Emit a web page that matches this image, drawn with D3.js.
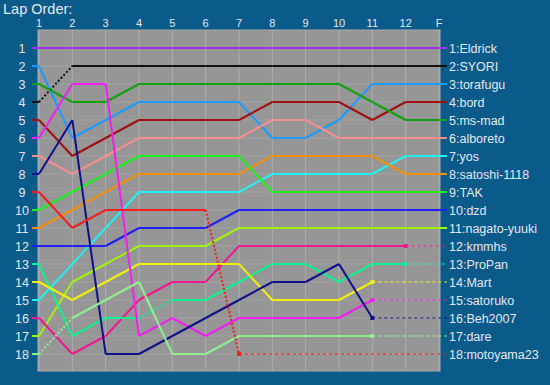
<!DOCTYPE html>
<html>
<head>
<meta charset="utf-8">
<script src="https://cdn.jsdelivr.net/npm/d3@7"></script>
<style>
  body { margin: 0; background: #0a5a8a; }
  text { font-family: "Liberation Sans", Arial, sans-serif; fill: #e4e8ee; }
</style>
</head>
<body>
<div id="chart"></div>
<script>
const W = 550, H = 385;

// laps shown across the top
const laps = ["1","2","3","4","5","6","7","8","9","10","11","12","F"];
const rows = d3.range(1, 19);

const names = ["Eldrick","SYORI","torafugu","bord","ms-mad","alboreto","yos","satoshi-1118","TAK",
  "dzd","nagato-yuuki","kmmhs","ProPan","Mart","satoruko","Beh2007","dare","motoyama23"];

const colors = ["#a030f0","#101010","#1e9bff","#a01010","#10a010","#f09090","#20f0f0","#f09010","#20f020",
  "#2020f0","#a0f010","#f01890","#10f090","#f0f010","#f020f0","#10108a","#90f090","#f02020"];

// position per lap (lap 1 .. 12, F); shorter arrays = did not finish
const positions = [
  [1,1,1,1,1,1,1,1,1,1,1,1,1],
  [4,2,2,2,2,2,2,2,2,2,2,2,2],
  [2,6,5,4,4,4,4,6,6,5,3,3,3],
  [5,7,6,5,5,5,5,4,4,4,5,4,4],
  [3,4,4,3,3,3,3,3,3,3,4,5,5],
  [7,8,7,6,6,6,6,5,5,6,6,6,6],
  [15,13,11,9,9,9,9,8,8,8,8,7,7],
  [11,10,9,8,8,8,8,7,7,7,7,8,8],
  [10,9,8,7,7,7,7,9,9,9,9,9,9],
  [12,12,12,11,11,11,10,10,10,10,10,10,10],
  [17,14,13,12,12,12,11,11,11,11,11,11,11],
  [16,18,17,15,14,14,12,12,12,12,12,12],
  [13,17,16,16,15,15,14,13,13,14,13,13],
  [14,15,14,13,13,13,13,15,15,15,14],
  [6,3,3,17,16,17,16,16,16,16,15],
  [8,5,18,18,17,16,15,14,14,13,16],
  [18,16,15,14,18,18,17,17,17,17,17],
  [9,11,10,10,10,10,18]
];

// segments drawn dotted: [driver index, index of segment start]
const dotted = [[1,0],[16,0],[12,3],[17,5]];

const svg = d3.select("#chart").append("svg")
    .attr("width", W)
    .attr("height", H);

svg.append("rect").attr("width", W).attr("height", H).attr("fill", "#0a5a8a");

const x = d3.scalePoint().domain(laps).range([39, 439]);
const y = d3.scaleLinear().domain([1, 18]).range([48, 354]);
const startX = 32, endX = 447;

// plot background
svg.append("rect")
    .attr("x", 38).attr("y", 30)
    .attr("width", 402).attr("height", 341)
    .attr("fill", "#969696")
    .attr("stroke", "#a8a8a8");

// grid
svg.append("g").selectAll("line")
    .data(rows)
    .join("line")
    .attr("x1", 38).attr("x2", 440)
    .attr("y1", d => y(d)).attr("y2", d => y(d))
    .style("stroke", "#a2a2a2")
    .style("stroke-width", 1);

svg.append("g").selectAll("line")
    .data(laps)
    .join("line")
    .attr("x1", d => x(d)).attr("x2", d => x(d))
    .attr("y1", 30).attr("y2", 371)
    .style("stroke", "#aeaeae")
    .style("stroke-width", 1);

// labels
svg.append("text")
    .attr("x", 3).attr("y", 14)
    .attr("font-size", 14.5)
    .text("Lap Order:");

svg.append("g").selectAll("text")
    .data(laps)
    .join("text")
    .attr("x", d => x(d)).attr("y", 27)
    .attr("text-anchor", "middle")
    .attr("font-size", 11)
    .text(d => d);

svg.append("g").selectAll("text")
    .data(rows)
    .join("text")
    .attr("x", 22).attr("y", d => y(d) + 4.5)
    .attr("text-anchor", "middle")
    .attr("font-size", 12.5)
    .text(d => d);

// build segments for each driver
const segs = [];
const ends = [];
positions.forEach((p, i) => {
    segs.push({ i, x1: startX, y1: p[0], x2: x(laps[0]), y2: p[0], dot: false });
    for (let k = 0; k < p.length - 1; k++) {
        const dot = dotted.some(d => d[0] === i && d[1] === k);
        segs.push({ i, x1: x(laps[k]), y1: p[k], x2: x(laps[k + 1]), y2: p[k + 1], dot });
    }
    const last = p.length - 1;
    ends.push({ i, x: x(laps[last]), p: p[last], finished: p.length === laps.length });
});

const lines = svg.append("g");

// extensions to labels (drawn first, under the race lines)
lines.selectAll(".ext")
    .data(ends)
    .join("line")
    .attr("class", "ext")
    .attr("x1", d => d.x).attr("x2", endX)
    .attr("y1", d => y(d.p)).attr("y2", d => y(d.p))
    .style("stroke", d => colors[d.i])
    .style("stroke-width", d => d.finished ? 2 : 1)
    .style("stroke-dasharray", d => d.finished ? null : "3,3");

lines.selectAll(".seg")
    .data(segs)
    .join("line")
    .attr("class", "seg")
    .attr("x1", d => d.x1).attr("x2", d => d.x2)
    .attr("y1", d => y(d.y1)).attr("y2", d => y(d.y2))
    .style("stroke", d => colors[d.i])
    .style("stroke-width", 2)
    .style("stroke-dasharray", d => d.dot ? "2,2" : null);

// end markers for non-finishers
lines.selectAll(".mark")
    .data(ends.filter(d => !d.finished))
    .join("rect")
    .attr("class", "mark")
    .attr("x", d => d.x - 2).attr("y", d => y(d.p) - 2)
    .attr("width", 4).attr("height", 4)
    .attr("fill", d => colors[d.i]);

svg.append("g").selectAll("text")
    .data(ends)
    .join("text")
    .attr("x", 449).attr("y", d => y(d.p) + 4.5)
    .attr("font-size", 12.5)
    .text(d => (d.i + 1) + ":" + names[d.i]);
</script>
</body>
</html>
